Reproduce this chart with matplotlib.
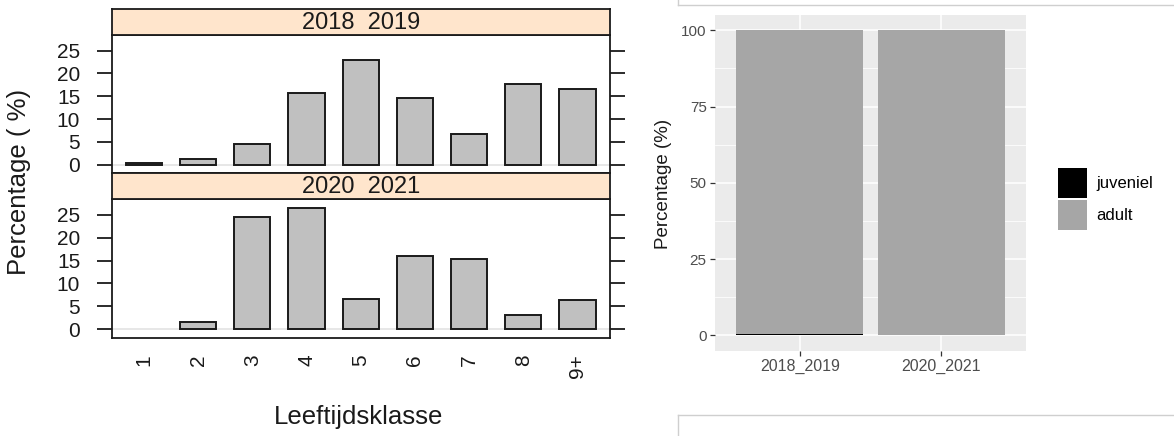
import matplotlib
matplotlib.use("Agg")
import matplotlib.pyplot as plt
from matplotlib import font_manager as fm
from matplotlib.patches import Patch
import numpy as np

# ---- data -------------------------------------------------------------
age_classes = ["1", "2", "3", "4", "5", "6", "7", "8", "9+"]
seasons = ["2018_2019", "2020_2021"]
strip_labels = ["2018  2019", "2020  2021"]
pct_2018_2019 = [0.5, 1.25, 4.55, 15.8, 23.0, 14.7, 6.8, 17.7, 16.6]
pct_2020_2021 = [0.0, 1.65, 24.6, 26.4, 6.5, 16.1, 15.4, 3.1, 6.45]
juveniel_pct = [0.5, 0.0]
adult_pct = [99.5, 100.0]
stage_labels = ["juveniel", "adult"]

# ---- fonts ------------------------------------------------------------
installed = {f.name for f in fm.fontManager.ttflist}
NARROW = "Liberation Sans Narrow" if "Liberation Sans Narrow" in installed else "Liberation Sans"
SANS = "Liberation Sans" if "Liberation Sans" in installed else "DejaVu Sans"
plt.rcParams["font.family"] = SANS

W, H = 1174, 436
fig = plt.figure(figsize=(W / 100, H / 100), dpi=100)


def box(x0, y0, x1, y1):
    """Axes rectangle from pixel edges (origin at top-left)."""
    return [x0 / W, 1 - y1 / H, (x1 - x0) / W, (y1 - y0) / H]


# ---- left: lattice-style bar chart per season -------------------------
PL, PR = 111.5, 610
layout = [  # strip top, strip bottom / panel top, panel bottom
    (9.5, 35.0, 173.3),
    (173.3, 199.3, 337.7),
]
series = [pct_2018_2019, pct_2020_2021]
x = np.arange(1, len(age_classes) + 1)
edge = "#1a1a1a"

for i, ((st, pt, pb), vals, lab) in enumerate(zip(layout, series, strip_labels)):
    ax = fig.add_axes(box(PL, pt, PR, pb))
    ax.axhline(0, color="#e3e3e3", lw=1.2, zorder=1)
    # empty classes get no outline, so nothing is drawn for them
    lws = [1.4 if v > 0 else 0.0 for v in vals]
    ax.bar(x, vals, width=0.667, color="#c0c0c0", edgecolor=edge,
           linewidth=lws, zorder=2)
    ax.set_xlim(0.4, 9.6)
    ax.set_ylim(-1.85, 28.4)
    ax.set_yticks([0, 5, 10, 15, 20, 25])
    ax.tick_params(axis="y", which="both", left=True, right=True,
                   direction="out", length=10.5, width=1.3, color=edge,
                   pad=12, labelsize=15, labelcolor="#1a1a1a")
    for t in ax.get_yticklabels():
        t.set_fontfamily(NARROW)
    for s in ax.spines.values():
        s.set_linewidth(1.3)
        s.set_color(edge)
    ax.set_xticks(x)
    if i == len(series) - 1:
        ax.set_xticklabels(age_classes, rotation=90, fontsize=15,
                           fontfamily=NARROW, color="#1a1a1a")
        ax.tick_params(axis="x", length=0, pad=12)
    else:
        ax.tick_params(axis="x", length=0, labelbottom=False)

    sx = fig.add_axes(box(PL, st, PR, pt))
    sx.set_facecolor("#ffe5cc")
    sx.set_xticks([])
    sx.set_yticks([])
    for s in sx.spines.values():
        s.set_linewidth(1.3)
        s.set_color(edge)
    sx.text(0.5, 0.47, lab, transform=sx.transAxes, ha="center", va="center",
            fontsize=17, fontfamily=NARROW, color="#1a1a1a")

fig.text(359 / W, 1 - 417 / H, "Leeftijdsklasse", ha="center", va="center",
         fontsize=18.5, color="#1a1a1a")
fig.text(19 / W, 1 - 182 / H, "Percentage ( %)", ha="center", va="center",
         rotation=90, fontsize=18.5, color="#1a1a1a")

# ---- right: ggplot-style stacked bars ---------------------------------
for yy in (5, 415):
    fig.add_artist(plt.Line2D([678 / W, 1], [1 - yy / H] * 2, color="#cfcfcf",
                              lw=1.0, transform=fig.transFigure))
fig.add_artist(plt.Line2D([678 / W] * 2, [1, 1 - 5 / H], color="#cfcfcf",
                          lw=1.0, transform=fig.transFigure))
fig.add_artist(plt.Line2D([678 / W] * 2, [1 - 415 / H, 0], color="#cfcfcf",
                          lw=1.0, transform=fig.transFigure))

ax2 = fig.add_axes(box(715, 15, 1026, 350.7))
ax2.set_facecolor("#ebebeb")
xs = np.arange(1, len(seasons) + 1)
juv_col, adu_col = "#000000", "#a6a6a6"
ax2.bar(xs, juveniel_pct, width=0.9, color=juv_col, zorder=2, linewidth=0)
ax2.bar(xs, adult_pct, width=0.9, bottom=juveniel_pct, color=adu_col,
        zorder=2, linewidth=0)
ax2.set_xlim(0.4, 2.6)
ax2.set_ylim(-5, 105)
ax2.set_yticks([0, 25, 50, 75, 100])
ax2.set_yticks([12.5, 37.5, 62.5, 87.5], minor=True)
ax2.set_xticks(xs)
ax2.set_xticklabels(seasons)
ax2.grid(which="major", color="white", lw=1.1, zorder=0)
ax2.grid(which="minor", axis="y", color="white", lw=0.55, zorder=0)
ax2.set_axisbelow(True)
for s in ax2.spines.values():
    s.set_visible(False)
ax2.tick_params(which="major", length=3.5, width=0.9, color="#333333",
                labelsize=11, labelcolor="#4d4d4d", pad=2.5)
ax2.tick_params(which="minor", length=0)
ax2.tick_params(axis="x", labelsize=11.5)
fig.text(663 / W, 1 - 184 / H, "Percentage (%)", ha="center", va="center",
         rotation=90, fontsize=13.5, color="#1a1a1a")

handles = [Patch(facecolor=juv_col, edgecolor="none"),
           Patch(facecolor=adu_col, edgecolor="none")]
fig.legend(handles, stage_labels, loc="upper left",
           bbox_to_anchor=(1057.7 / W, 1 - 167.7 / H),
           bbox_transform=fig.transFigure, frameon=False, fontsize=12,
           handlelength=1.75, handleheight=2.4, labelspacing=0.14,
           handletextpad=0.55, borderpad=0, borderaxespad=0)

fig.savefig("out.png", dpi=100, facecolor="white")
